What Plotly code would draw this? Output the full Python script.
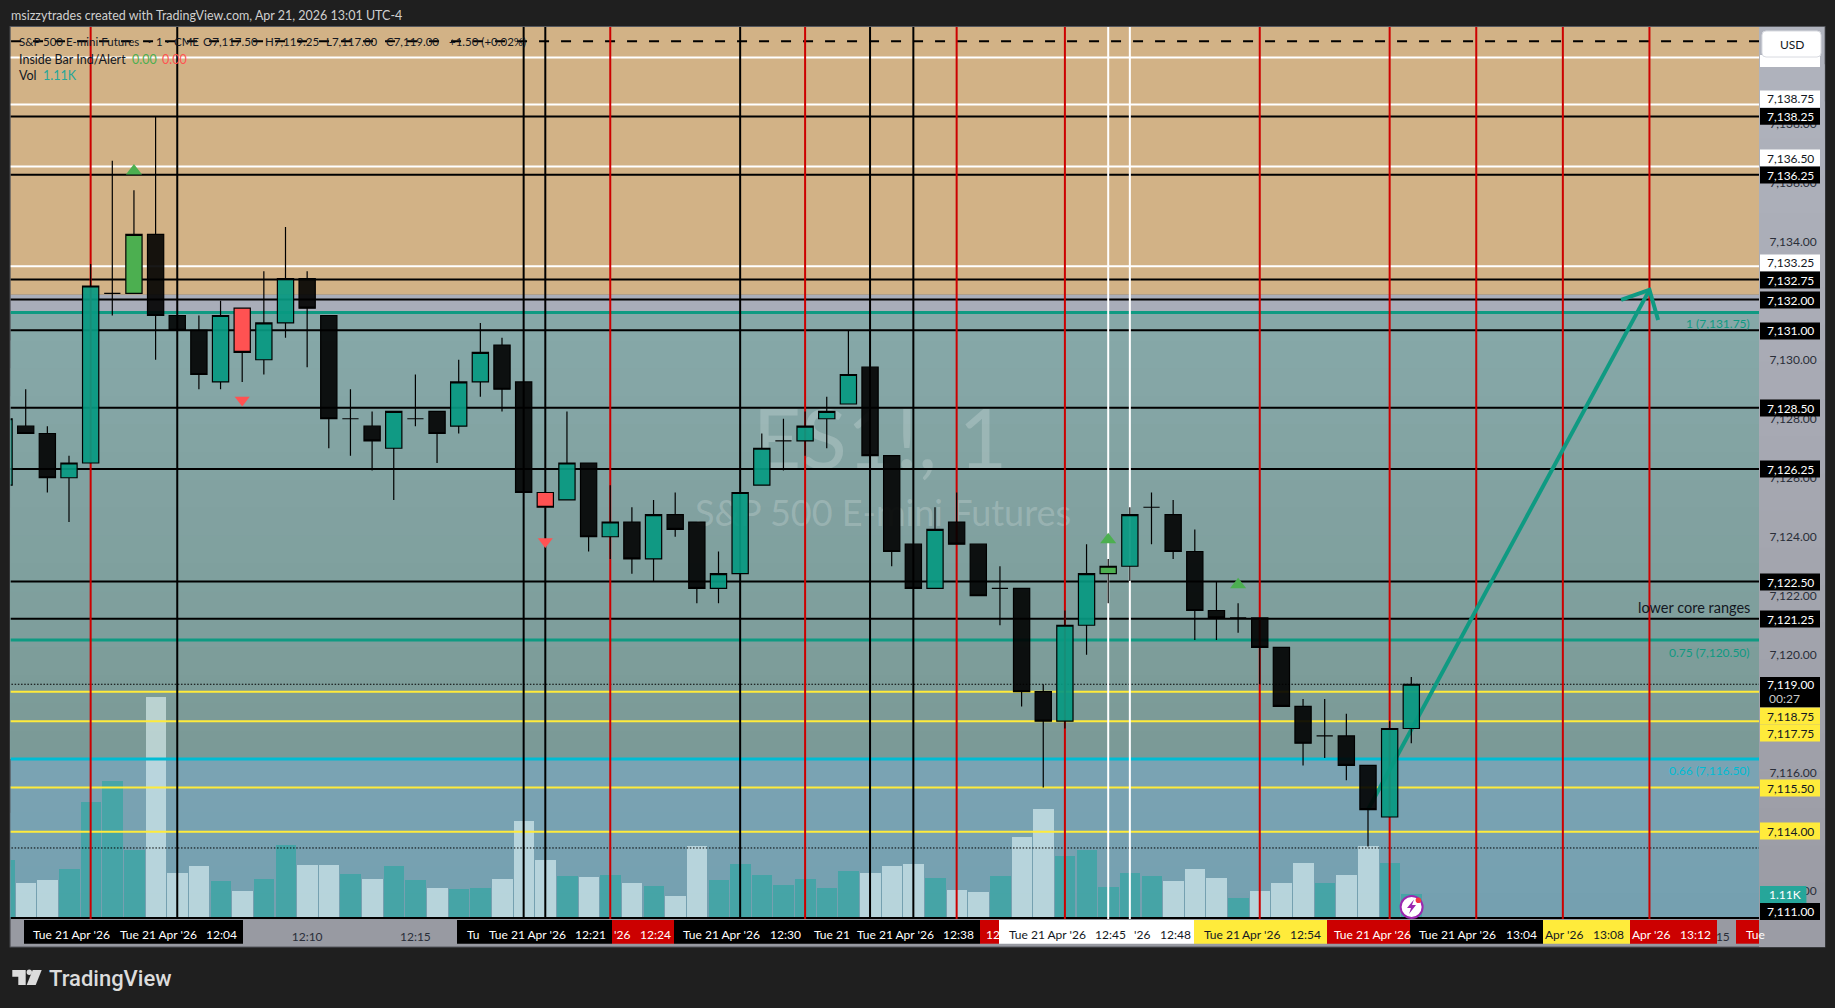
#!/usr/bin/env python3
"""ES1! one minute chart, TradingView look, drawn with Plotly."""

import plotly.graph_objects as go

W, H = 1835, 1008
PLOT_L, PLOT_R, PLOT_T, PLOT_B = 10.7, 1759, 27, 919
FONT = "Lato, 'Noto Sans', sans-serif"

# --- data -----------------------------------------------------------------
# minutes after 11:57, the first bar is the clipped one at the left edge
bar_x = list(range(-1, 65))
opens = [
    7125.75, 7127.75, 7127.5, 7126.0, 7126.5, 7132.25, 7132.25, 7134.25, 7131.5, 7131.0, 7129.25,
    7131.75, 7130.0, 7131.25, 7132.75, 7131.5, 7128.0, 7127.75, 7127.0, 7128.0, 7128.25, 7127.75,
    7129.25, 7130.5, 7129.25, 7125.5, 7125.25, 7126.5, 7124.0, 7124.5, 7123.25, 7124.75, 7124.5,
    7122.25, 7122.75, 7125.75, 7127.25, 7127.25, 7128.0, 7128.5, 7129.75, 7126.75, 7123.75, 7122.25,
    7124.5, 7123.75, 7122.25, 7122.25, 7118.75, 7117.75, 7121.0, 7122.75, 7123.0, 7125.0, 7124.75,
    7123.5, 7121.5, 7121.25, 7121.25, 7120.25, 7118.25, 7117.25, 7117.25, 7116.25, 7114.5, 7117.5,
]
highs = [
    7128.0, 7129.0, 7127.75, 7126.75, 7133.25, 7136.75, 7135.75, 7138.25, 7131.5, 7131.5, 7132.0,
    7131.75, 7133.0, 7134.5, 7133.0, 7131.5, 7129.0, 7128.25, 7128.25, 7129.5, 7128.25, 7130.0,
    7131.25, 7130.75, 7129.25, 7125.5, 7128.25, 7126.5, 7125.75, 7125.0, 7125.25, 7125.5, 7124.5,
    7123.5, 7125.5, 7127.5, 7128.0, 7128.25, 7128.75, 7131.0, 7129.75, 7126.75, 7123.75, 7125.0,
    7125.5, 7123.75, 7123.0, 7122.25, 7119.0, 7121.5, 7123.75, 7123.25, 7125.0, 7125.5, 7125.25,
    7124.25, 7122.5, 7121.75, 7121.25, 7120.25, 7118.5, 7118.5, 7118.0, 7116.25, 7117.75, 7119.25,
]
lows = [
    7125.75, 7127.5, 7125.5, 7124.5, 7126.5, 7131.5, 7132.25, 7130.0, 7131.0, 7129.0, 7129.0,
    7129.25, 7129.5, 7130.75, 7129.75, 7127.0, 7126.75, 7126.25, 7125.25, 7127.75, 7126.5, 7127.5,
    7128.75, 7128.25, 7125.5, 7125.0, 7125.25, 7123.5, 7123.25, 7122.75, 7122.5, 7124.0, 7121.75,
    7121.75, 7122.75, 7125.75, 7126.25, 7126.75, 7127.0, 7128.5, 7126.75, 7123.0, 7122.25, 7122.25,
    7123.75, 7122.0, 7121.0, 7118.25, 7115.5, 7117.5, 7120.0, 7121.75, 7122.5, 7123.75, 7123.25,
    7120.5, 7120.5, 7120.75, 7119.0, 7118.25, 7116.25, 7116.5, 7115.75, 7113.5, 7114.5, 7117.0,
]
closes = [
    7128.0, 7127.5, 7126.0, 7126.5, 7132.5, 7132.25, 7134.25, 7131.5, 7131.0, 7129.5, 7131.5,
    7130.25, 7131.25, 7132.75, 7131.75, 7128.0, 7128.0, 7127.25, 7128.25, 7128.0, 7127.5, 7129.25,
    7130.25, 7129.0, 7125.5, 7125.0, 7126.5, 7124.0, 7124.5, 7123.25, 7124.75, 7124.25, 7122.25,
    7122.75, 7125.5, 7127.0, 7127.25, 7127.75, 7128.25, 7129.5, 7126.75, 7123.5, 7122.25, 7124.25,
    7123.75, 7122.0, 7122.25, 7118.75, 7117.75, 7121.0, 7122.75, 7123.0, 7124.75, 7125.0, 7123.5,
    7121.5, 7121.25, 7121.25, 7120.25, 7118.25, 7117.0, 7117.25, 7116.25, 7114.75, 7117.5, 7119.0,
]
# inside bars get their own colours
inside_up = [5, 50]
inside_down = [10, 24]
volumes_k = [
    2.64, 1.61, 1.75, 2.24, 5.21, 6.15, 3.08, 9.88, 2.06, 2.37, 1.70,
    1.26, 1.79, 3.30, 2.41, 2.41, 2.01, 1.79, 2.37, 1.75, 1.39, 1.35,
    1.39, 1.79, 4.37, 2.64, 1.93, 1.88, 1.97, 1.61, 1.48, 1.04, 3.26,
    1.75, 2.46, 1.97, 1.53, 1.79, 1.39, 2.15, 2.06, 2.37, 2.46, 1.84,
    1.30, 1.21, 1.93, 3.66, 4.90, 2.81, 3.08, 1.44, 2.06, 1.93, 1.70,
    2.24, 1.84, 0.95, 1.26, 1.61, 2.50, 1.61, 1.97, 3.26, 2.50, 1.11,
]
volume_up = [
    1, 0, 0, 1, 1, 1, 1, 0, 0, 0, 1,
    0, 1, 1, 0, 0, 1, 0, 1, 1, 0, 1,
    1, 0, 0, 0, 1, 0, 1, 0, 1, 0, 0,
    1, 1, 1, 1, 1, 1, 1, 0, 0, 0, 1,
    0, 0, 1, 0, 0, 1, 1, 1, 1, 1, 0,
    0, 0, 1, 0, 0, 0, 1, 0, 0, 1, 1,
]
tri_up_x = [5, 50, 56]
tri_up_y = [7136.4, 7123.9, 7122.37]
tri_down_x = [10, 24]
tri_down_y = [7128.64, 7123.84]

white_levels = [7140.25, 7138.65, 7136.55, 7133.17]
black_levels = [7138.25, 7136.27, 7132.72, 7132.04, 7131.0, 7128.37, 7126.3, 7122.48, 7121.22, 7111.08]
yellow_levels = [7118.75, 7117.75, 7115.5, 7114.0]
teal_levels = [7131.6, 7120.5]
cyan_levels = [7116.47]
dashed_levels = [7140.8]
dotted_levels = [7119.0, 7113.45]
zone_tan = [7132.2, 7141.28]
zone_lilac = [7131.6, 7132.2]
zone_teal = [7116.47, 7131.6]
zone_blue = [7111.0, 7116.47]

black_times = [7, 23, 24, 33, 39, 41]
red_times = [3, 27, 36, 43, 48, 57, 63, 67, 71, 75]
white_times = [50, 51]

arrow_x = [62, 75]
arrow_y = [7114.75, 7132.37]
barb_x = [73.69, 75, 75.4]
barb_y = [7132.03, 7132.37, 7131.35]

# only the ticks that still show past the tags and time boxes
price_ticks = [7112, 7116, 7120, 7122, 7124, 7126, 7128, 7130, 7134, 7136, 7138]
time_ticks = [13, 18, 78]
time_tick_text = ["12:10", "12:15", "13:15"]

tag_text = [
    "7,138.75", "7,138.25", "7,136.50", "7,136.25", "7,133.25", "7,132.75", "7,132.00", "7,131.00",
    "7,128.50", "7,126.25", "7,122.50", "7,121.25", "7,118.75", "7,117.75", "7,115.50", "7,114.00",
    "7,111.00",
]
tag_kind = ["w", "k", "w", "k", "w", "k", "k", "k", "k", "k", "k", "k", "y", "y", "y", "y", "k"]

time_pieces = [
    "Tue 21 Apr '26", "Tue 21 Apr '26", "12:04", "Tu", "Tue 21 Apr '26", "12:21", "'26", "12:24",
    "Tue 21 Apr '26", "12:30", "Tue 21", "Tue 21 Apr '26", "12:38", "12:", "Tue 21 Apr '26", "12:45",
    "'26", "12:48", "Tue 21", "Apr '26", "12:54", "Tue 21 Apr '26", "Tue 21 Apr '26", "13:04",
    "Apr '26", "13:08", "Apr '26", "13:12", "Tue",
]
time_piece_kind = [
    "k", "k", "k", "k", "k", "k", "r", "r", "k", "k", "k", "k", "k", "r", "w", "w",
    "w", "w", "y", "y", "y", "r", "k", "k", "y", "y", "r", "r", "r",
]

legend_text = [
    "S&P 500 E-mini Futures", "·", "1", "·", "CME", "O7,117.50", "H7,119.25", "L7,117.00", "C7,119.00", "+1.50 (+0.02%)",
]

# --- layout numbers --------------------------------------------------------
px_per_bar = 21.65
bar0_px = 25.7
px_per_point = 29.5
price_top = 7141.28
price_bottom = price_top - (PLOT_B - PLOT_T) / px_per_point
x_lo = (PLOT_L - bar0_px) / px_per_bar
x_hi = (PLOT_R - bar0_px) / px_per_bar
vol_top = (PLOT_B - PLOT_T) / 22.5

legend_px = [18, 147, 155, 165, 173, 202, 264, 325, 385, 447.6]
tag_y = [99, 116.4, 158, 175, 263, 280, 300, 331, 408, 469, 582, 619, 716, 733, 788, 831, 911.5]
time_box_x = [
    (24, 243), (457, 612), (612, 674), (674, 980), (980, 999), (999, 1194), (1194, 1327),
    (1327, 1410), (1410, 1543), (1543, 1630), (1630, 1717), (1736, 1759),
]
time_box_fill = ["k", "k", "r", "k", "r", "w", "y", "r", "k", "y", "r", "r"]
time_piece_px = [
    32, 118.6, 205, 466, 487.5, 574, 613, 638.6,
    682, 768.7, 812.6, 855.7, 941.5, 984.6, 1008, 1093.7,
    1132.8, 1158.5, 1202.5, 1241, 1288.6, 1332.6, 1418.4, 1504.6,
    1544, 1592, 1631, 1679, 1745,
]
box_colors = {"k": "#000000", "r": "#cc0000", "w": "#ffffff", "y": "#ffeb3b"}
box_text = {"k": "#ffffff", "r": "#ffffff", "w": "#131722", "y": "#131722"}

TEAL = "#0f9a82"
RED = "#cc0000"
YELLOW = "#ffeb3b"
CYAN = "#00bcd4"
INK = "#131722"


def fx(px):
    return px / W


def fy(py):
    return 1 - py / H


def mix(a, b, t):
    r = [round(a[i] + (b[i] - a[i]) * t) for i in range(3)]
    return f"rgb({r[0]},{r[1]},{r[2]})"


def rect_px(x0, y0, x1, y1, fill, layer="above"):
    return dict(
        type="rect", xref="paper", yref="paper", x0=fx(x0), x1=fx(x1), y0=fy(y0), y1=fy(y1),
        fillcolor=fill, line=dict(width=0), layer=layer,
    )


def note(x, y, text, color, size=12, anchor="left", **kw):
    return dict(
        xref="paper", yref="paper", x=fx(x), y=fy(y), text=text, showarrow=False, xanchor=anchor,
        yanchor="middle", borderpad=0, font=dict(family=kw.pop("family", FONT), size=size, color=color, **kw),
    )


def hlines(levels):
    xs, ys = [], []
    for p in levels:
        xs += [x_lo - 1, x_hi + 1, None]
        ys += [p, p, None]
    return xs, ys


def vlines(times):
    xs, ys = [], []
    for t in times:
        xs += [t, t, None]
        ys += [price_bottom, price_top, None]
    return xs, ys


shapes = []
# frame, price scale and time scale panels
shapes.append(rect_px(9.6, 26, 1825.4, 947.6, "#55575c", "below"))
# every band runs to the bottom and the next one paints over it, so no seams show
for k in range(24):
    shapes.append(rect_px(PLOT_R, PLOT_T + k * 37.2, 1824.6, 946.6,
                          mix((176, 179, 189), (155, 156, 165), k / 23), "below"))
shapes.append(rect_px(PLOT_L, PLOT_B, PLOT_R, 946.6, "#989aa2", "below"))

# zones: tan, lilac, then two slow vertical gradients
shapes.append(dict(type="rect", xref="paper", yref="y2", x0=fx(PLOT_L), x1=fx(PLOT_R), y0=zone_tan[0], y1=zone_tan[1],
                   fillcolor="#d2b286", line=dict(width=0), layer="below"))
shapes.append(dict(type="rect", xref="paper", yref="y2", x0=fx(PLOT_L), x1=fx(PLOT_R), y0=zone_lilac[0], y1=zone_lilac[1],
                   fillcolor="#a9adb9", line=dict(width=0), layer="below"))
for zone, top_c, bot_c, n in (
    (zone_teal, (134, 168, 168), (123, 154, 151), 16),
    (zone_blue, (122, 163, 179), (117, 160, 176), 6),
):
    step = (zone[1] - zone[0]) / n
    for k in range(n):
        shapes.append(dict(type="rect", xref="paper", yref="y2", x0=fx(PLOT_L), x1=fx(PLOT_R),
                           y0=zone[0], y1=zone[1] - step * k,
                           fillcolor=mix(top_c, bot_c, k / (n - 1)), line=dict(width=0), layer="below"))

# time scale boxes
for (x0, x1), kind in zip(time_box_x, time_box_fill):
    shapes.append(rect_px(x0, 920, x1, 943.7, box_colors[kind]))

# price tags
shapes.append(rect_px(1760, 55, 1820, 67, "#ffffff"))
for y, kind in zip(tag_y, tag_kind):
    shapes.append(rect_px(1760, y - 8.4, 1820, y + 8.4, box_colors[kind]))
shapes.append(rect_px(1760, 677, 1820, 707.3, "#000000"))
shapes.append(rect_px(1760, 886, 1806.4, 903, "#26a69a"))

# USD button
shapes.append(dict(type="path", xref="paper", yref="paper", fillcolor="#ffffff", line=dict(color="#d8dae0", width=1), layer="above",
                   path=f"M {fx(1766)} {fy(31)} L {fx(1817)} {fy(31)} Q {fx(1821)} {fy(31)} {fx(1821)} {fy(35)} "
                        f"L {fx(1821)} {fy(53)} Q {fx(1821)} {fy(57)} {fx(1817)} {fy(57)} L {fx(1766)} {fy(57)} "
                        f"Q {fx(1762)} {fy(57)} {fx(1762)} {fy(53)} L {fx(1762)} {fy(35)} Q {fx(1762)} {fy(31)} {fx(1766)} {fy(31)} Z"))

# lightning badge
shapes.append(dict(type="circle", xref="paper", yref="paper", x0=fx(1400.6), x1=fx(1422.6), y0=fy(896), y1=fy(918),
                   fillcolor="#ffffff", line=dict(color="#9c27b0", width=2), layer="above"))
bolt = [(1414, 899.5), (1407, 908), (1411, 908), (1409, 914), (1416, 905), (1412, 905)]
shapes.append(dict(type="path", xref="paper", yref="paper", fillcolor="#9c27b0", line=dict(width=0), layer="above",
                   path="M " + " L ".join(f"{fx(a)} {fy(b)}" for a, b in bolt) + " Z"))
shapes.append(dict(type="circle", xref="paper", yref="paper", x0=fx(1415.6), x1=fx(1421.2), y0=fy(897.5), y1=fy(903.1),
                   fillcolor="#f23645", line=dict(width=0), layer="above"))

# TradingView mark
mark = [(12.3, 970), (25.7, 970), (25.7, 985), (18.3, 985), (18.3, 976.7), (12.3, 976.7)]
slash = [(32.7, 970), (41.7, 970), (35.7, 985), (26.7, 985)]
for poly in (mark, slash):
    shapes.append(dict(type="path", xref="paper", yref="paper", fillcolor="#dcdcdc", line=dict(width=0), layer="above",
                       path="M " + " L ".join(f"{fx(a)} {fy(b)}" for a, b in poly) + " Z"))
shapes.append(dict(type="circle", xref="paper", yref="paper", x0=fx(26.6), x1=fx(32), y0=fy(969.6), y1=fy(975),
                   fillcolor="#dcdcdc", line=dict(width=0), layer="above"))

annotations = [
    note(10, 15.5, "msizzytrades created with TradingView.com, Apr 21, 2026 13:01 UTC-4", "#cfcfcf", 12.5),
    note(18, 59, "Inside Bar Ind/Alert", INK, 12.5),
    note(131, 59, "0.00", "#4caf50", 12.5),
    note(161.3, 59, "0.00", "#ff5252", 12.5),
    note(18, 76, "Vol", INK, 12.5),
    note(41.5, 76, "1.11K", "#26a69a", 12.5),
    note(1791.5, 44.5, "USD", INK, 12, anchor="center"),
    note(1751, 607, "lower core ranges", INK, 14.5, anchor="right"),
    note(1751, 323, "1 (7,131.75)", TEAL, 12, anchor="right"),
    note(1751, 652, "0.75 (7,120.50)", TEAL, 12, anchor="right"),
    note(1751, 770.5, "0.66 (7,116.50)", CYAN, 12, anchor="right"),
    note(1790, 684.7, "7,119.00", "#ffffff", 12, anchor="center"),
    note(1768, 698.7, "00:27", "#c8c8c8", 12),
    note(1785, 894.5, "1.11K", "#ffffff", 12, anchor="center"),
    note(47.5, 978, "TradingView", "#dcdcdc", 22, family="Roboto", weight=500),
]
for x, text in zip(legend_px, legend_text):
    annotations.append(note(x, 41.7, text, INK, 11.5))
for y, text, kind in zip(tag_y, tag_text, tag_kind):
    annotations.append(note(1790, y, text, box_text[kind], 12, anchor="center"))
for x, text, kind in zip(time_piece_px, time_pieces, time_piece_kind):
    annotations.append(note(x, 934.7, text, box_text[kind], 12))

fig = go.Figure()

# volume sits on the main y axis, so it stays under everything else
fig.add_trace(go.Bar(
    x=bar_x, y=volumes_k, width=0.95, yaxis="y", hoverinfo="skip",
    marker=dict(color=["rgba(38,166,160,0.6)" if v else "rgba(236,255,255,0.55)" for v in volume_up], line=dict(width=0)),
))

fig.add_trace(go.Scatter(
    x=[39.46, 39.6], y=[7127.0, 7124.67], mode="text", text=["ES1!, 1", "S&P 500 E-mini Futures"], yaxis="y2",
    textposition="middle center", textfont=dict(family=FONT, size=[84, 36], color="rgba(255,255,255,0.2)"), hoverinfo="skip",
))

for levels, color, width, dash in (
    (white_levels, "#ffffff", 2, None),
    (black_levels, "#000000", 2, None),
    (dashed_levels, "#000000", 2, "10px,12px"),
    (dotted_levels, "#000000", 1, "1.5px,1.7px"),
    (teal_levels, TEAL, 3, None),
    (cyan_levels, CYAN, 3, None),
    (yellow_levels, YELLOW, 2, None),
):
    xs, ys = hlines(levels)
    fig.add_trace(go.Scatter(x=xs, y=ys, mode="lines", yaxis="y2", hoverinfo="skip", line=dict(color=color, width=width, dash=dash)))

for times, color in ((black_times, "#000000"), (white_times, "#ffffff"), (red_times, RED)):
    xs, ys = vlines(times)
    fig.add_trace(go.Scatter(x=xs, y=ys, mode="lines", yaxis="y2", hoverinfo="skip", line=dict(color=color, width=2)))

fig.add_trace(go.Scatter(x=arrow_x, y=arrow_y, mode="lines", yaxis="y2", hoverinfo="skip", line=dict(color=TEAL, width=4)))
fig.add_trace(go.Scatter(x=barb_x, y=barb_y, mode="lines", yaxis="y2", hoverinfo="skip", line=dict(color=TEAL, width=4)))

fig.add_trace(go.Scatter(x=tri_up_x, y=tri_up_y, mode="markers", yaxis="y2", hoverinfo="skip",
                         marker=dict(symbol="triangle-up", size=14, color="#4caf50", line=dict(width=0))))
fig.add_trace(go.Scatter(x=tri_down_x, y=tri_down_y, mode="markers", yaxis="y2", hoverinfo="skip",
                         marker=dict(symbol="triangle-down", size=13, color="#ff5252", line=dict(width=0))))

special = set(inside_up + inside_down)
plain = [k for k, x in enumerate(bar_x) if x not in special]
marked = [k for k, x in enumerate(bar_x) if x in special]
for idx, up_fill, down_fill in (
    (plain, "rgba(8,153,129,0.93)", "rgba(0,0,0,0.9)"),
    (marked, "#4caf50", "#ff5252"),
):
    fig.add_trace(go.Candlestick(
        x=[bar_x[k] for k in idx], open=[opens[k] for k in idx], high=[highs[k] for k in idx],
        low=[lows[k] for k in idx], close=[closes[k] for k in idx], yaxis="y3", whiskerwidth=0, hoverinfo="skip",
        increasing=dict(fillcolor=up_fill, line=dict(color="#000000", width=1.2)),
        decreasing=dict(fillcolor=down_fill, line=dict(color="#000000", width=1.2)),
    ))

y_domain = [fy(PLOT_B), fy(PLOT_T)]
fig.update_layout(
    width=W, height=H, margin=dict(l=0, r=0, t=0, b=0), autosize=False, showlegend=False,
    paper_bgcolor="#1f1f1f", plot_bgcolor="rgba(0,0,0,0)", barmode="overlay", bargap=0,
    boxmode="overlay", boxgap=0.25, boxgroupgap=0,
    font=dict(family=FONT),
    shapes=shapes, annotations=annotations,
    xaxis=dict(
        domain=[fx(PLOT_L), fx(PLOT_R)], range=[x_lo, x_hi], rangeslider=dict(visible=False), showgrid=False, zeroline=False,
        tickmode="array", tickvals=time_ticks, ticktext=time_tick_text, ticks="outside", ticklen=7, tickcolor="rgba(0,0,0,0)",
        tickfont=dict(family=FONT, size=12, color="#2a2e39"), showline=False,
    ),
    yaxis=dict(domain=y_domain, range=[0, vol_top], visible=False, fixedrange=True),
    yaxis2=dict(
        domain=y_domain, range=[price_bottom, price_top], overlaying="y", side="right", showgrid=False, zeroline=False, showline=False,
        tickmode="array", tickvals=price_ticks, tickformat=",.2f", ticks="outside", ticklen=7, tickcolor="rgba(0,0,0,0)",
        tickfont=dict(family=FONT, size=12, color="#2a2e39"),
    ),
    yaxis3=dict(domain=y_domain, range=[price_bottom, price_top], overlaying="y", visible=False),
)

page_fix = "document.body.style.margin='0';document.body.style.background='#1f1f1f';document.body.style.overflow='hidden';"
fig.write_html("out.html", post_script=page_fix, config={"displayModeBar": False})
